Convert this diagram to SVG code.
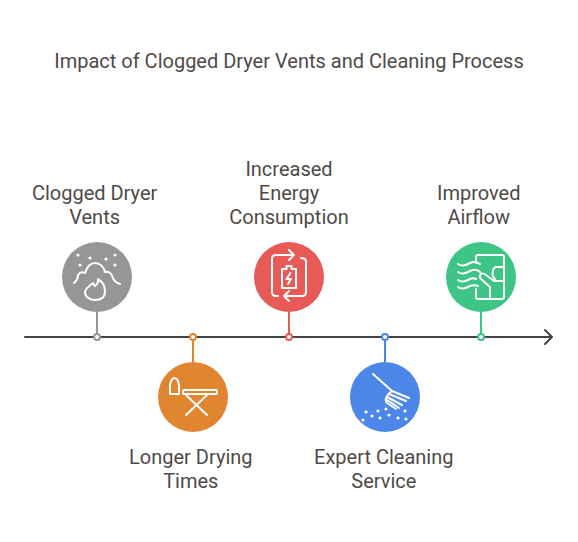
<svg xmlns="http://www.w3.org/2000/svg" width="578" height="542" viewBox="0 0 578 542">
<style>
text{font-family:Roboto,"Liberation Sans",sans-serif;font-size:20px;fill:#4f4a48;text-anchor:middle}
.i{fill:none;stroke:#fff;stroke-width:2;stroke-linecap:round;stroke-linejoin:round}
.d{fill:#fff}
.axis{fill:none;stroke:#434343;stroke-width:2;stroke-linecap:round;stroke-linejoin:round}
</style>
<rect width="578" height="542" fill="#fff"/>
<text id="title" x="289" y="68">Impact of Clogged Dryer Vents and Cleaning Process</text>
<g id="connectors">
<path class="axis" d="M25 337H552M545 330L552 337L545 344"/>
<path d="M97 312V337" stroke="#969696" stroke-width="2"/>
<path d="M193 337V362" stroke="#e08530" stroke-width="2"/>
<path d="M289 312V337" stroke="#e85a55" stroke-width="2"/>
<path d="M385 337V362" stroke="#4c86e8" stroke-width="2"/>
<path d="M481 312V337" stroke="#3dc585" stroke-width="2"/>
</g>
<g id="node1">
<circle cx="97" cy="337" r="3" fill="#fff" stroke="#969696" stroke-width="2"/>
<circle cx="97" cy="277" r="35" fill="#969696"/>
<g transform="translate(97,277)">
<g class="d"><circle cx="-19" cy="-22" r="1.600"/><circle cx="-7" cy="-19" r="1.600"/><circle cx="9" cy="-18" r="1.600"/><circle cx="18" cy="-22" r="1.600"/><circle cx="-17" cy="-12" r="1.600"/><circle cx="18" cy="-12" r="1.600"/></g>
<path class="i" d="M-23 6C-21 4-19 3-19-2C-17-5-14-5-12-4C-10-10-7-14-2-14C3-14 7-10 8-5C11-6 15-4 16 1C17 4 20 6 23 7"/>
<path class="i" d="M1 2C2 6 0 7-2 9C-3 8-4 7-4 6C-8 9-12 12-12 15C-12 20-7 23-2 23C4 23 8 20 8 14C8 10 6 5 1 2Z"/>
</g>
</g>
<g id="node2">
<circle cx="193" cy="337" r="3" fill="#fff" stroke="#e08530" stroke-width="2"/>
<circle cx="193" cy="397" r="35" fill="#e08530"/>
<g transform="translate(193,397)">
<path class="i" d="M-23-3V-11C-23-15-21-19-18.500-19C-16-19-14-15-14-11V-3Z"/>
<rect class="i" x="-10" y="-7" width="34" height="4" rx="1.500"/>
<path class="i" d="M-7 18L14-2M14 18L-7-2"/>
</g>
</g>
<g id="node3">
<circle cx="289" cy="337" r="3" fill="#fff" stroke="#e85a55" stroke-width="2"/>
<circle cx="289" cy="277" r="35" fill="#e85a55"/>
<g transform="translate(289,277)">
<path class="i" d="M-11 19H-13Q-17 19-17 15V-18Q-17-22-13-22H5M0-27L5-22L0-17"/>
<path class="i" d="M12-19Q17-19 17-15V15Q17 19 13 19H-5M0 14L-5 19L0 24"/>
<path class="i" d="M-7-8H-2.500V-11H2.500V-8H7V11H-7Z"/>
<path class="i" d="M1.500-4L-2.500 2H2L-1 7"/>
</g>
</g>
<g id="node4">
<circle cx="385" cy="337" r="3" fill="#fff" stroke="#4c86e8" stroke-width="2"/>
<circle cx="385" cy="397" r="35" fill="#4c86e8"/>
<g transform="translate(385,397)">
<path class="i" d="M-12-23L7-6"/>
<path class="i" d="M7-6C2-3-1 3 2 6L11 12M7-6L24 1M4-3L21 4M2 0L17 8M2 3L14 11"/>
<g class="d"><circle cx="-19" cy="15" r="1.600"/><circle cx="-13" cy="19" r="1.600"/><circle cx="-7" cy="14" r="1.600"/><circle cx="-5" cy="21" r="1.600"/><circle cx="1" cy="12" r="1.600"/><circle cx="4" cy="18" r="1.600"/><circle cx="13" cy="21" r="1.600"/><circle cx="20" cy="14" r="1.600"/><circle cx="21" cy="22" r="1.600"/><circle cx="-22" cy="23" r="1.600"/></g>
</g>
</g>
<g id="node5">
<circle cx="481" cy="337" r="3" fill="#fff" stroke="#3dc585" stroke-width="2"/>
<circle cx="481" cy="277" r="35" fill="#3dc585"/>
<g transform="translate(481,277)">
<path class="i" d="M-5-14V-20Q-5-22-3-22H21Q23-22 23-20V20Q23 22 21 22H-3Q-5 22-5 20V12"/>
<path class="i" d="M-23-13C-19-10-15-12-11-14C-7-16-4-15-1-13"/>
<path class="i" d="M-23-5C-19-2-15-4-11-6C-7-8-3-7-1-5"/>
<path class="i" d="M-23 3C-19 6-15 4-11 2C-9 1-7 1-5 2"/>
<path class="i" d="M-23 10C-19 13-15 11-11 9C-8 8-5 8-3 9"/>
<path class="i" d="M23 4H13L5-2C3-4 0-4-1-2C-2 0-1 1 0 2L9 10V22"/>
<path class="i" d="M23-10H16C11-10 10-1 14 2"/>
</g>
</g>
<g id="labels">
<text x="94.600" y="200">Clogged Dryer</text><text x="94.600" y="224">Vents</text>
<text x="190.800" y="464">Longer Drying</text><text x="190.800" y="488">Times</text>
<text x="289" y="176">Increased</text><text x="289" y="200">Energy</text><text x="289" y="224">Consumption</text>
<text x="383.800" y="464">Expert Cleaning</text><text x="383.800" y="488">Service</text>
<text x="478.700" y="200">Improved</text><text x="478.700" y="224">Airflow</text>
</g>
</svg>
